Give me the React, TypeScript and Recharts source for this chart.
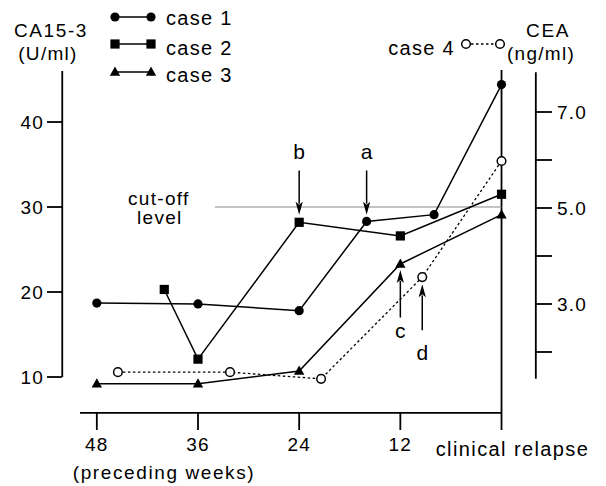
import React from 'react';
import { ComposedChart, Line, XAxis, YAxis, ReferenceLine, ReferenceDot, Legend } from 'recharts';

const FONT = '"Liberation Sans", Arial, Helvetica, sans-serif';

// ---- data ----
const seriesNames = ['case 1', 'case 2', 'case 3', 'case 4'];

const xTicks = [48, 36, 24, 12, 0];
const xTickLabels = ['48', '36', '24', '12', 'clinical relapse'];
const leftTicks = [10, 20, 30, 40];
const rightTicks = [2, 3, 4, 5, 6, 7];
const rightTickLabels = ['', '3.0', '', '5.0', '', '7.0'];

const case1Weeks = [48, 36, 24, 16, 8, 0];
const case1Ca = [18.7, 18.6, 17.8, 28.3, 29.1, 44.4];
const case2Weeks = [40, 36, 24, 12, 0];
const case2Ca = [20.3, 12.1, 28.2, 26.6, 31.5];
const case3Weeks = [48, 36, 24, 12, 0];
const case3Ca = [9.2, 9.2, 10.7, 23.3, 29.1];
const case4Weeks = [45.5, 32.2, 21.4, 9.4, 0];
const case4Cea = [1.58, 1.58, 1.44, 3.56, 5.98];

const cutOffCa = 30;
const cutOffFromWeek = 34;

const arrowNames = ['b', 'a', 'c', 'd'];
const arrowWeeks = [24, 16, 12, 9.4];
const arrowTail = [34.3, 34.3, 17.0, 15.5];
const arrowTip = [29.1, 29.1, 22.6, 20.9];
const arrowLabelAt = [35.7, 35.7, 14.6, 12.0];

// ---- layout (axis ranges) ----
const X_DOMAIN: [number, number] = [-4.09, 52.13];
const LEFT_DOMAIN: [number, number] = [5.765, 46.12];
const RIGHT_DOMAIN: [number, number] = [0.729, 7.875];
const LEFT_AXIS_X = 52.1;
const LEFT_AXIS_TOP = 46.0;
const X_AXIS_Y = 5.78;
const X_AXIS_START = 50;
const RIGHT_AXIS_X = -4.07;
const RIGHT_AXIS_LOW = 1.44;
const RIGHT_AXIS_HIGH = 7.83;

const toPts = (ws: number[], vs: number[]) => ws.map((w, i) => ({ w, v: vs[i] }));
const case1Data = toPts(case1Weeks, case1Ca);
const case2Data = toPts(case2Weeks, case2Ca);
const case3Data = toPts(case3Weeks, case3Ca);
const case4Data = toPts(case4Weeks, case4Cea);

const txt = { fontFamily: FONT, fill: '#000' } as const;

function marker(kind: string, cx: number, cy: number, key?: any) {
  switch (kind) {
    case 'circle':
      return <circle key={key} cx={cx} cy={cy} r={4.6} fill="#000" />;
    case 'square':
      return <rect key={key} x={cx - 4.6} y={cy - 4.6} width={9.2} height={9.2} fill="#000" />;
    case 'triangle':
      return <path key={key} d={`M${cx},${cy - 5.5}L${cx + 5.2},${cy + 3.8}L${cx - 5.2},${cy + 3.8}Z`} fill="#000" />;
    default:
      return <circle key={key} cx={cx} cy={cy} r={4.3} fill="#fff" stroke="#000" strokeWidth={1.5} />;
  }
}

const dotOf = (kind: string) => (p: any) => {
  if (p.cx == null || p.cy == null) return <g key={p.key} />;
  return marker(kind, p.cx, p.cy, p.key);
};

const XTick = (p: any) => {
  const { x, y, payload } = p;
  const i = xTicks.indexOf(payload.value);
  const relapse = payload.value === 0;
  return (
    <g>
      <line x1={x} y1={y} x2={x} y2={y + 17} stroke="#000" strokeWidth={1.8} />
      <text
        x={relapse ? x + 11 : x}
        y={relapse ? y + 43 : y + 38}
        textAnchor="middle"
        fontSize={relapse ? 20 : 19}
        letterSpacing={relapse ? 1.4 : 1.2}
        {...txt}
      >
        {xTickLabels[i]}
      </text>
    </g>
  );
};

const segShape = (p: any) => (
  <line x1={p.x1} y1={p.y1} x2={p.x2} y2={p.y2} stroke="#000" strokeWidth={1.8} />
);

const arrowShape = (p: any) => {
  const { x1, y1, x2, y2 } = p;
  const dir = y2 > y1 ? 1 : -1;
  const head = 13;
  return (
    <g>
      <line x1={x1} y1={y1} x2={x2} y2={y2 - dir * head + dir * 2} stroke="#000" strokeWidth={1.5} />
      <path d={`M${x2},${y2}L${x2 - 3.6},${y2 - dir * head}L${x2},${y2 - dir * (head - 3)}L${x2 + 3.6},${y2 - dir * head}Z`} fill="#000" />
    </g>
  );
};

const cutOffShape = (p: any) => {
  const { x1, y1, x2, y2 } = p;
  const left = Math.min(x1, x2);
  return (
    <g>
      <line x1={x1} y1={y1} x2={x2} y2={y2} stroke="#8a8a8a" strokeWidth={1.1} />
      <text x={left - 56} y={y1 - 2} textAnchor="middle" fontSize={19} letterSpacing={1.3} {...txt}>cut-off</text>
      <text x={left - 55} y={y1 + 17} textAnchor="middle" fontSize={19} letterSpacing={1.3} {...txt}>level</text>
    </g>
  );
};

const LegendContent = () => {
  const kinds = ['circle', 'square', 'triangle'];
  const markY = [17, 44, 72];
  const textY = [25, 55, 82];
  return (
    <svg width={606} height={100} style={{ display: 'block' }}>
      {kinds.map((k, i) => (
        <g key={k}>
          <line x1={115} y1={markY[i]} x2={151} y2={markY[i]} stroke="#000" strokeWidth={1.5} />
          {marker(k, 115, markY[i])}
          {marker(k, 151, markY[i])}
          <text x={166} y={textY[i]} fontSize={20} letterSpacing={1.3} {...txt}>{seriesNames[i]}</text>
        </g>
      ))}
      <g>
        <line x1={466} y1={44} x2={500} y2={44} stroke="#000" strokeWidth={1.3} strokeDasharray="2.5 2.5" />
        {marker('open', 466, 44)}
        {marker('open', 500, 44)}
        <text x={455} y={55} textAnchor="end" fontSize={20} letterSpacing={1.3} {...txt}>{seriesNames[3]}</text>
      </g>
    </svg>
  );
};

const LeftTitle = (p: any) => {
  const vb = p.viewBox || { x: 0, y: 70, width: 62 };
  const cx = vb.x + vb.width - 11;
  return (
    <g>
      <text x={cx} y={vb.y - 33} textAnchor="middle" fontSize={19} letterSpacing={1.6} {...txt}>CA15-3</text>
      <text x={cx - 3} y={vb.y - 10} textAnchor="middle" fontSize={19} letterSpacing={1.3} {...txt}>(U/ml)</text>
    </g>
  );
};

const RightTitle = (p: any) => {
  const vb = p.viewBox || { x: 536, y: 70, width: 70 };
  return (
    <g>
      <text x={vb.x + 12} y={vb.y - 33} textAnchor="middle" fontSize={19} letterSpacing={1.6} {...txt}>CEA</text>
      <text x={vb.x + 5} y={vb.y - 10} textAnchor="middle" fontSize={19} letterSpacing={1.3} {...txt}>(ng/ml)</text>
    </g>
  );
};

const BottomTitle = (p: any) => {
  const vb = p.viewBox || { x: 62, y: 413 };
  return (
    <text x={vb.x + 102} y={vb.y + 66} textAnchor="middle" fontSize={19} letterSpacing={1.6} {...txt}>
      (preceding weeks)
    </text>
  );
};

export default function App() {
  return (
    <div style={{ position: 'absolute', left: 0, top: 0, width: 606, height: 486, background: '#fff' }}>
      <ComposedChart width={606} height={486} margin={{ top: 70, right: 0, bottom: 0, left: 0 }}>
        <XAxis
          dataKey="w"
          type="number"
          domain={X_DOMAIN}
          allowDataOverflow
          reversed
          ticks={xTicks}
          interval={0}
          height={73}
          axisLine={false}
          tickLine={false}
          tickSize={0}
          tickMargin={0}
          tick={XTick}
          label={{ content: BottomTitle }}
        />
        <YAxis
          yAxisId="left"
          orientation="left"
          type="number"
          domain={LEFT_DOMAIN}
          allowDataOverflow
          ticks={leftTicks}
          interval={0}
          width={62}
          axisLine={false}
          tickLine={{ stroke: '#000', strokeWidth: 1.8 }}
          tickSize={15}
          tickMargin={3}
          tick={{ fill: '#000', fontSize: 19, fontFamily: FONT, letterSpacing: 1.2 }}
          label={{ content: LeftTitle }}
        />
        <YAxis
          yAxisId="right"
          orientation="right"
          type="number"
          domain={RIGHT_DOMAIN}
          allowDataOverflow
          ticks={rightTicks}
          interval={0}
          width={70}
          axisLine={false}
          tickLine={{ stroke: '#000', strokeWidth: 1.8 }}
          tickSize={16}
          tickMargin={5}
          tickFormatter={(v: number) => rightTickLabels[rightTicks.indexOf(v)] ?? ''}
          tick={{ fill: '#000', fontSize: 19, fontFamily: FONT, letterSpacing: 1.2 }}
          label={{ content: RightTitle }}
        />

        {/* axis lines */}
        <ReferenceLine
          yAxisId="left"
          ifOverflow="visible"
          segment={[{ x: LEFT_AXIS_X, y: leftTicks[0] }, { x: LEFT_AXIS_X, y: LEFT_AXIS_TOP }]}
          shape={segShape}
        />
        <ReferenceLine
          yAxisId="right"
          ifOverflow="visible"
          segment={[{ x: RIGHT_AXIS_X, y: RIGHT_AXIS_LOW }, { x: RIGHT_AXIS_X, y: RIGHT_AXIS_HIGH }]}
          shape={segShape}
        />
        <ReferenceLine
          yAxisId="left"
          ifOverflow="visible"
          segment={[{ x: X_AXIS_START, y: X_AXIS_Y }, { x: 0, y: X_AXIS_Y }]}
          shape={segShape}
        />
        <ReferenceLine yAxisId="left" x={0} ifOverflow="visible" stroke="#000" strokeWidth={1.8} />

        {/* cut-off level */}
        <ReferenceLine
          yAxisId="left"
          ifOverflow="visible"
          segment={[{ x: cutOffFromWeek, y: cutOffCa }, { x: 0, y: cutOffCa }]}
          shape={cutOffShape}
        />

        <Line data={case4Data} yAxisId="right" dataKey="v" name={seriesNames[3]} stroke="#000" strokeWidth={1.3}
          strokeDasharray="2.5 2.5" dot={dotOf('open')} activeDot={false} isAnimationActive={false} />
        <Line data={case3Data} yAxisId="left" dataKey="v" name={seriesNames[2]} stroke="#000" strokeWidth={1.5}
          dot={dotOf('triangle')} activeDot={false} isAnimationActive={false} />
        <Line data={case2Data} yAxisId="left" dataKey="v" name={seriesNames[1]} stroke="#000" strokeWidth={1.5}
          dot={dotOf('square')} activeDot={false} isAnimationActive={false} />
        <Line data={case1Data} yAxisId="left" dataKey="v" name={seriesNames[0]} stroke="#000" strokeWidth={1.5}
          dot={dotOf('circle')} activeDot={false} isAnimationActive={false} />

        {/* arrows */}
        {arrowNames.map((n, i) => (
          <ReferenceLine
            key={'arr' + n}
            yAxisId="left"
            ifOverflow="visible"
            segment={[{ x: arrowWeeks[i], y: arrowTail[i] }, { x: arrowWeeks[i], y: arrowTip[i] }]}
            shape={arrowShape}
          />
        ))}
        {arrowNames.map((n, i) => (
          <ReferenceDot
            key={'lab' + n}
            yAxisId="left"
            x={arrowWeeks[i]}
            y={arrowLabelAt[i]}
            ifOverflow="visible"
            shape={(p: any) => (
              <text x={p.cx} y={p.cy} textAnchor="middle" fontSize={21} {...txt}>{n}</text>
            )}
          />
        ))}

        <Legend
          layout="vertical"
          align="center"
          verticalAlign="middle"
          wrapperStyle={{ position: 'absolute', left: 0, top: 0, width: 606, height: 100, pointerEvents: 'none' }}
          content={LegendContent}
        />
      </ComposedChart>
    </div>
  );
}
